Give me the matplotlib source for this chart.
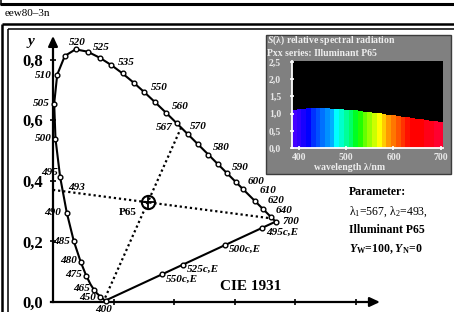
import matplotlib.pyplot as plt
from matplotlib.lines import Line2D
from matplotlib.patches import Rectangle
from matplotlib.ticker import FuncFormatter

plt.rcParams['font.family'] = ['Liberation Serif', 'DejaVu Serif']
plt.rcParams['mathtext.fontset'] = 'custom'
plt.rcParams['mathtext.rm'] = 'Liberation Serif'
plt.rcParams['mathtext.it'] = 'Liberation Serif:italic:bold'
plt.rcParams['mathtext.bf'] = 'Liberation Serif:bold'

# CIE 1931 spectral locus (5 nm steps)
locus_nm = [400, 405, 410, 415, 420, 425, 430, 435, 440, 445, 450, 455, 460, 465,
            470, 475, 480, 485, 490, 495, 500, 505, 510, 515, 520, 525, 530, 535,
            540, 545, 550, 555, 560, 565, 570, 575, 580, 585, 590, 595, 600, 605,
            610, 615, 620, 625, 630, 635, 640, 645, 650, 655, 660, 665, 670, 675,
            680, 685, 690, 695, 700]
locus_x = [0.1733, 0.1730, 0.1726, 0.1721, 0.1714, 0.1703, 0.1689, 0.1669, 0.1644,
           0.1611, 0.1566, 0.1510, 0.1440, 0.1355, 0.1241, 0.1096, 0.0913, 0.0687,
           0.0454, 0.0235, 0.0082, 0.0039, 0.0139, 0.0389, 0.0743, 0.1142, 0.1547,
           0.1929, 0.2296, 0.2658, 0.3016, 0.3373, 0.3731, 0.4087, 0.4441, 0.4788,
           0.5125, 0.5448, 0.5752, 0.6029, 0.6270, 0.6482, 0.6658, 0.6801, 0.6915,
           0.7006, 0.7079, 0.7140, 0.7190, 0.7230, 0.7260, 0.7283, 0.7300, 0.7311,
           0.7320, 0.7327, 0.7334, 0.7340, 0.7344, 0.7346, 0.7347]
locus_y = [0.0048, 0.0048, 0.0048, 0.0048, 0.0051, 0.0058, 0.0069, 0.0086, 0.0109,
           0.0138, 0.0177, 0.0227, 0.0297, 0.0399, 0.0578, 0.0868, 0.1327, 0.2007,
           0.2950, 0.4127, 0.5384, 0.6548, 0.7502, 0.8120, 0.8338, 0.8262, 0.8059,
           0.7816, 0.7543, 0.7243, 0.6923, 0.6589, 0.6245, 0.5896, 0.5547, 0.5202,
           0.4866, 0.4544, 0.4242, 0.3965, 0.3725, 0.3514, 0.3340, 0.3197, 0.3083,
           0.2993, 0.2920, 0.2859, 0.2809, 0.2770, 0.2740, 0.2717, 0.2700, 0.2689,
           0.2680, 0.2673, 0.2666, 0.2660, 0.2656, 0.2654, 0.2653]

# wavelengths marked with a circle
marked_nm = [400, 450, 465, 475, 480, 485, 490, 495, 500, 505, 510, 515, 520, 525,
             530, 535, 540, 545, 550, 555, 560, 565, 570, 575, 580, 585, 590, 595,
             600, 610, 620, 640, 700]

# complementary wavelengths on the purple line
purple_names = ["495c,E", "500c,E", "525c,E", "550c,E"]
purple_x = [0.690, 0.568, 0.429, 0.360]
purple_y = [0.245, 0.188, 0.123, 0.091]

# P65 white point and the two dotted lines through it
p65 = (0.3127, 0.3290)
line1_x = [0.4229, 0.3127, 0.168]   # from 567 nm
line1_y = [0.5756, 0.3290, 0.005]
line2_x = [0.000, 0.3127, 0.728]    # from 493 nm
line2_y = [0.370, 0.3290, 0.275]
lam1 = (0.4229, 0.5756)
lam2 = (0.0323, 0.3656)

# inset: relative spectral radiation
spec_nm = list(range(390, 701, 10))
spec_val = [1.11, 1.14, 1.14, 1.16, 1.17, 1.17, 1.17, 1.17, 1.14, 1.14, 1.13, 1.11,
            1.11, 1.11, 1.08, 1.05, 1.05, 1.02, 1.01, 0.99, 0.96, 0.95, 0.92, 0.90,
            0.89, 0.87, 0.85, 0.84, 0.81, 0.79, 0.78, 0.76]
spec_colors = ['#4400ff', '#3000ff', '#1800ff', '#0000ff', '#0030ff', '#0050ff',
               '#0070ff', '#0090ff', '#00b0ff', '#00ffff', '#00ffcc', '#00ff99',
               '#00ff66', '#00ff22', '#22ff00', '#66ff00', '#99ff00', '#ccff00',
               '#ffff00', '#ffcc00', '#ff9900', '#ff7700', '#ff5500', '#ff3300',
               '#ff1100', '#ff0000', '#ff0000', '#ff0000', '#ff0018', '#ff0018',
               '#ff0030', '#ff0030']

W, H = 454, 312
S = 303.0  # pixels per unit in the chromaticity diagram
fig = plt.figure(figsize=(W / 100, H / 100), dpi=100)


def fx(px):
    return px / W


def fy(py):
    return 1 - py / H


def fline(xs, ys, lw, color='k'):
    fig.add_artist(Line2D([fx(v) for v in xs], [fy(v) for v in ys],
                          transform=fig.transFigure, lw=lw, color=color,
                          solid_capstyle='butt', zorder=5))


# frames
fline([0, W], [4.3, 4.3], 2.2)
fline([0.8, 0.8], [0, 5], 1.1)
fline([2, W], [23.5, 23.5], 1.8)
fline([2, 2], [23.5, H], 1.8)
fline([7.5, W], [28.5, 28.5], 1.1)
fline([7.5, 7.5], [28.5, H], 1.1)
fig.text(fx(5), fy(14), "eew80\u20133n", fontsize=8, va='center', ha='left')

# main chromaticity axes
ax = fig.add_axes([0, 0, 1, 1])
ax.set_zorder(0)
ax.patch.set_visible(False)
ax.set_xlim(-53 / S, (W - 53) / S)
ax.set_ylim(-10 / S, 302 / S)
for s in ['top', 'right']:
    ax.spines[s].set_visible(False)
ax.spines['left'].set_position(('data', 0))
ax.spines['bottom'].set_position(('data', 0))
ax.spines['left'].set_bounds(0, 0.85)
ax.spines['bottom'].set_bounds(-0.006, 1.05)
ax.spines['left'].set_linewidth(1.6)
ax.spines['bottom'].set_linewidth(1.6)
ax.set_yticks([0, 0.2, 0.4, 0.6, 0.8])
ax.set_xticks([0.2, 0.4, 0.6, 0.8, 1.0])
ax.set_xticklabels([])
ax.yaxis.set_major_formatter(FuncFormatter(lambda v, _: f"{v:.1f}".replace('.', ',')))
ax.tick_params(axis='y', direction='inout', length=5, width=1.2, pad=4.5,
               labelsize=12)
ax.tick_params(axis='x', direction='inout', length=4.5, width=1.2)
for t in ax.get_yticklabels():
    t.set_fontweight('bold')

arrow = dict(arrowstyle='-|>,head_length=0.6,head_width=0.28', color='k', lw=1.6,
             shrinkA=0, shrinkB=0)
ax.annotate('', xy=(0, 0.878), xytext=(0, 0.84), arrowprops=arrow)
ax.annotate('', xy=(1.079, 0), xytext=(1.04, 0), arrowprops=arrow)
fig.text(fx(31), fy(42), "y", fontsize=11, fontweight='bold', fontstyle='italic',
         ha='center', va='center')

# spectral locus and purple line
ax.plot(locus_x, locus_y, color='k', lw=1.5, zorder=3)
ax.plot([locus_x[0], locus_x[-1]], [locus_y[0], locus_y[-1]], color='k', lw=1.5,
        zorder=3)

# dotted lines through P65
ax.plot(line1_x, line1_y, color='k', lw=1.6, ls=(0, (1, 1.3)), zorder=2)
ax.plot(line2_x, line2_y, color='k', lw=1.6, ls=(0, (1, 1.3)), zorder=2)
ax.plot(*p65, marker='o', ms=9.5, mfc='none', mec='k', mew=1.5, zorder=4)
ax.plot(*p65, marker='+', ms=9.5, mec='k', mew=1.3, zorder=4)

mx = [locus_x[locus_nm.index(n)] for n in marked_nm]
my = [locus_y[locus_nm.index(n)] for n in marked_nm]
ax.plot(mx, my, 'o', ms=3.4, mfc='white', mec='k', mew=1.0, zorder=5)
ax.plot(purple_x, purple_y, 'o', ms=3.4, mfc='white', mec='k', mew=1.0, zorder=5)

# wavelength labels: offset in pixels (right, down) and alignment
label_pos = {
    400: (-2, 9, 'center'), 450: (-4, 1, 'right'), 465: (-4, -1, 'right'),
    475: (-4, -1, 'right'), 480: (-4, -1, 'right'), 485: (-4, 0, 'right'),
    490: (-6, 0, 'right'), 495: (-2, -4, 'right'), 500: (-4, 0, 'right'),
    505: (-4, 0, 'right'), 510: (-5, 1, 'right'), 520: (2, -7, 'center'),
    525: (5, -4, 'left'), 535: (6, -3, 'left'), 550: (6, -5, 'left'),
    560: (6, -6, 'left'), 570: (2, -7, 'left'), 580: (5, -7, 'left'),
    590: (5, -6, 'left'), 600: (5, -8, 'left'), 610: (5, -10, 'left'),
    620: (5, -8, 'left'), 640: (5, -6, 'left'), 700: (7, 0, 'left'),
}
lab_font = dict(fontsize=8, fontweight='bold', fontstyle='italic', va='center')
for nm, (dx, dy, ha) in label_pos.items():
    i = locus_nm.index(nm)
    ax.annotate(str(nm), (locus_x[i], locus_y[i]), xytext=(dx * 0.72, -dy * 0.72),
                textcoords='offset points', ha=ha, **lab_font)
ax.annotate("567", lam1, xytext=(-8 * 0.72, 0), textcoords='offset points',
            ha='right', **lab_font)
ax.annotate("493", lam2, xytext=(5 * 0.72, 4 * 0.72), textcoords='offset points',
            ha='left', **lab_font)
for name, x, y in zip(purple_names, purple_x, purple_y):
    ax.annotate(name, (x, y), xytext=(4 * 0.72, -4.5 * 0.72),
                textcoords='offset points', ha='left', **lab_font)

ax.annotate("P65", p65, xytext=(-20 * 0.72, -10 * 0.72), textcoords='offset points',
            ha='center', va='center', fontsize=8, fontweight='bold')
fig.text(fx(251), fy(286), "CIE 1931", fontsize=11, fontweight='bold',
         ha='center', va='center')

# parameter text
par = dict(fontsize=8.5, ha='left', va='center')
fig.text(fx(349), fy(192), "Parameter:", fontweight='bold', **par)
fig.text(fx(349), fy(212), r"λ$_1$=567, λ$_2$=493,", **par)
fig.text(fx(349), fy(230), "Illuminant P65", fontweight='bold', **par)
fig.text(fx(349), fy(249), r"$Y_{\mathbf{W}}$=100, $Y_{\mathbf{N}}$=0",
         fontweight='bold', **par)

# inset with spectral radiation
fig.add_artist(Rectangle((fx(266), fy(174)), (451 - 266) / W, (174 - 35) / H,
                         transform=fig.transFigure, facecolor='#808080',
                         edgecolor='#3c3c3c', lw=1, zorder=0.5))
ax2 = fig.add_axes([fx(292), fy(148), (443 - 292) / W, (148 - 61) / H])
ax2.set_zorder(1)
ax2.set_facecolor('black')
ax2.bar(spec_nm, spec_val, width=10, color=spec_colors, linewidth=0)
ax2.set_xlim(385, 705)
ax2.set_ylim(0, 2.53)
for s in ['top', 'right']:
    ax2.spines[s].set_visible(False)
for s in ['left', 'bottom']:
    ax2.spines[s].set_color('white')
    ax2.spines[s].set_linewidth(1.3)
ax2.set_xticks([400, 500, 600, 700])
ax2.set_yticks([0, 0.5, 1.0, 1.5, 2.0, 2.5])
ax2.yaxis.set_major_formatter(FuncFormatter(lambda v, _: f"{v:.1f}".replace('.', ',')))
ax2.tick_params(colors='white', labelcolor='#e8e8e8', labelsize=7, direction='inout',
                length=3.5, width=1.2)
ax2.tick_params(axis='y', pad=6)
ax2.tick_params(axis='x', pad=2)
for t in ax2.get_xticklabels() + ax2.get_yticklabels():
    t.set_fontweight('bold')

txt = dict(color='#eeeeee', fontsize=7, fontweight='bold', va='center', zorder=3)
fig.text(fx(267), fy(40), r"$S$(λ) relative spectral radiation", ha='left', **txt)
fig.text(fx(267), fy(53), "Pxx series: Illuminant P65", ha='left', **txt)
fig.text(fx(350), fy(167), "wavelength λ/nm", ha='center', **txt)

fig.savefig("out.png", dpi=100)
